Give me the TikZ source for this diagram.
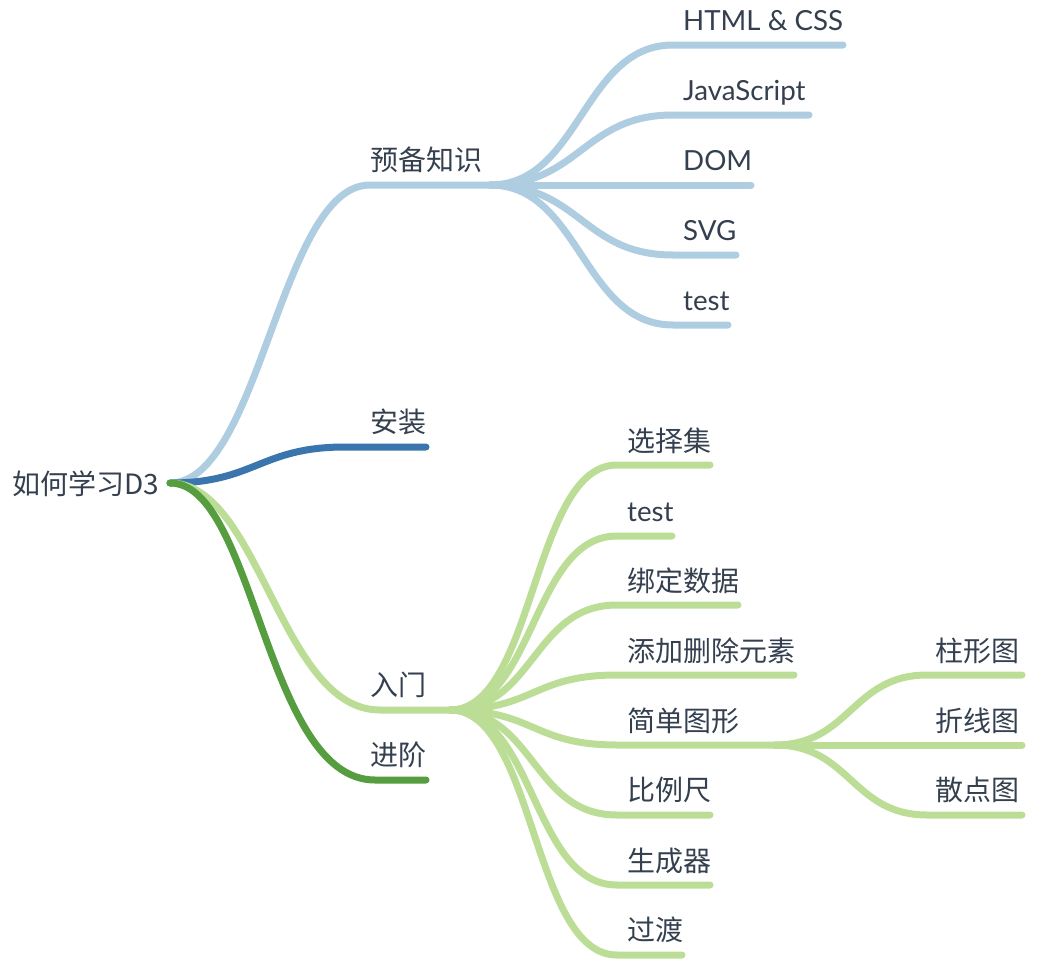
\documentclass[tikz,border=0pt]{standalone}
\usepackage{fontspec}
\newfontfamily\cjk{Noto Sans CJK SC}
\newfontfamily\lat{Lato}
\definecolor{lblue}{HTML}{AECDE0}
\definecolor{dblue}{HTML}{3B75AD}
\definecolor{lgreen}{HTML}{BCDD96}
\definecolor{dgreen}{HTML}{559D3F}
\definecolor{txt}{HTML}{34404F}
\tikzset{
  conn/.style={line width=7pt, line cap=round, line join=round},
  ctext/.style={inner sep=0pt, text=txt, anchor=base west, font=\cjk\fontsize{28}{32}\selectfont},
  ltext/.style={inner sep=0pt, text=txt, anchor=base west, font=\lat\fontsize{27.7}{30}\selectfont},
  rtext/.style={ctext, anchor=base east},
}
\begin{document}
\begin{tikzpicture}[x=1pt,y=-1pt]
\useasboundingbox (0,0) rectangle (1042,972);
% ---- text nodes
\node[ctext] (root) at (12,494) {如何学习D3};
\node[ctext] (yb) at (370,170) {预备知识};
\node[ctext] (az) at (370,432) {安装};
\node[ctext] (rm) at (370,695) {入门};
\node[ctext] (jj) at (370,765) {进阶};
\node[ltext] (html) at (683,30) {HTML \& CSS};
\node[ltext] (js) at (683,100) {JavaScript};
\node[ltext] (dom) at (683,170) {DOM};
\node[ltext] (svg) at (683,240) {SVG};
\node[ltext] (test1) at (683,310) {test};
\node[ctext] (xzj) at (627,451) {选择集};
\node[ltext] (test2) at (627,521) {test};
\node[ctext] (bd) at (627,591) {绑定数据};
\node[ctext] (tj) at (627,661) {添加删除元素};
\node[ctext] (jd) at (627,731) {简单图形};
\node[ctext] (blc) at (627,800) {比例尺};
\node[ctext] (scq) at (627,871) {生成器};
\node[ctext] (gd) at (627,940) {过渡};
\node[rtext] (zx) at (1020,661) {柱形图};
\node[rtext] (zhx) at (1020,731) {折线图};
\node[rtext] (sd) at (1020,800) {散点图};
% ---- connector points
\coordinate (r) at (170,483);
\coordinate (ybs) at (370,185); \coordinate (ybb) at (490,185);
\coordinate (azs) at (345,447); \coordinate (aze) at (426,447);
\coordinate (rms) at (380,710); \coordinate (rmb) at (450,710);
\coordinate (jjs) at (375,780); \coordinate (jje) at (426,780);
\coordinate (htmls) at (673,45);  \coordinate (htmle) at (843,45);
\coordinate (jss) at (673,115);   \coordinate (jse) at (809,115);
\coordinate (doms) at (673,185);  \coordinate (dome) at (751,185);
\coordinate (svgs) at (673,255);  \coordinate (svge) at (736,255);
\coordinate (t1s) at (673,325);   \coordinate (t1e) at (728,325);
\coordinate (xzjs) at (617,465);  \coordinate (xzje) at (710,465);
\coordinate (t2s) at (617,536);   \coordinate (t2e) at (672,536);
\coordinate (bds) at (617,605);   \coordinate (bde) at (738,605);
\coordinate (tjs) at (617,675);   \coordinate (tje) at (794,675);
\coordinate (jds) at (617,745);   \coordinate (jdb) at (775,745);
\coordinate (blcs) at (617,815);  \coordinate (blce) at (710,815);
\coordinate (scqs) at (617,885);  \coordinate (scqe) at (710,885);
\coordinate (gds) at (617,955);   \coordinate (gde) at (682,955);
\coordinate (zxs) at (927,675);   \coordinate (zxe) at (1022,675);
\coordinate (zhxs) at (927,745);  \coordinate (zhxe) at (1022,745);
\coordinate (sds) at (927,815);   \coordinate (sde) at (1022,815);
% ---- 预备知识 branch
\begin{scope}[conn, draw=lblue]
\draw (r) .. controls +(90,0) and +(-90,0) .. (ybs) -- (ybb);
\foreach \s/\e in {htmls/htmle, jss/jse, doms/dome, svgs/svge, t1s/t1e}
  \draw (ybb) .. controls +(90,0) and +(-90,0) .. (\s) -- (\e);
\end{scope}
% ---- 安装
\draw[conn, dblue] (r) .. controls +(85,0) and +(-85,0) .. (azs) -- (aze);
% ---- 入门 branch
\begin{scope}[conn, draw=lgreen]
\draw (r) .. controls +(90,0) and +(-100,0) .. (rms) -- (rmb);
\foreach \s/\e in {xzjs/xzje, t2s/t2e, bds/bde, tjs/tje, jds/jdb, blcs/blce, scqs/scqe, gds/gde}
  \draw (rmb) .. controls +(85,0) and +(-85,0) .. (\s) -- (\e);
\foreach \s/\e in {zxs/zxe, zhxs/zhxe, sds/sde}
  \draw (jdb) .. controls +(75,0) and +(-75,0) .. (\s) -- (\e);
\end{scope}
% ---- 进阶
\draw[conn, dgreen] (r) .. controls +(85,0) and +(-110,0) .. (jjs) -- (jje);
\end{tikzpicture}
\end{document}
